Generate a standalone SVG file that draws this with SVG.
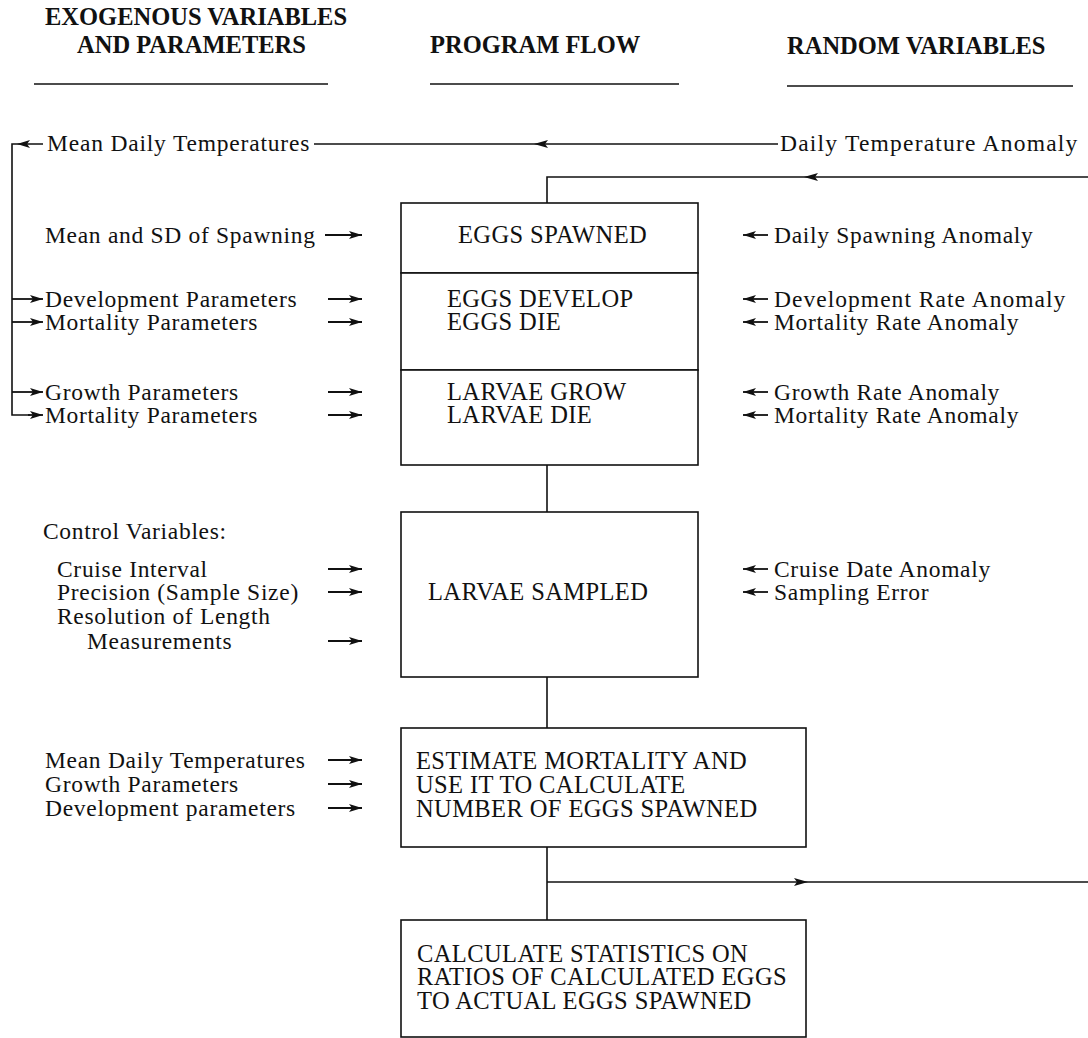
<svg xmlns="http://www.w3.org/2000/svg" width="1088" height="1038" viewBox="0 0 1088 1038">
<style>
text{font-family:"Liberation Serif","Times New Roman",serif;font-size:23.5px;letter-spacing:0.7px;fill:#111}
.h{font-weight:bold;font-size:24.5px;letter-spacing:0}
.bx{font-size:24.5px;letter-spacing:0.4px}
.ln{stroke:#111;stroke-width:1.6;fill:none}
.box{stroke:#111;stroke-width:1.6;fill:#fff}
.ah{fill:#111}
.ar{stroke:#111;stroke-width:1.8;fill:none;marker-end:url(#hd)}
</style>
<defs>
<marker id="hd" viewBox="0 0 13 8" refX="13" refY="4" markerWidth="13" markerHeight="8" markerUnits="userSpaceOnUse" orient="auto">
<path d="M0,0 L13,4 L0,8 L3,4 z" fill="#111"/>
</marker>
</defs>

<g id="headers">
<text class="h" x="45" y="25">EXOGENOUS VARIABLES</text>
<text class="h" x="77" y="53">AND PARAMETERS</text>
<text class="h" x="430" y="53">PROGRAM FLOW</text>
<text class="h" x="787" y="54">RANDOM VARIABLES</text>
<line class="ln" x1="34" y1="84" x2="328" y2="84"/>
<line class="ln" x1="430" y1="84" x2="679" y2="84"/>
<line class="ln" x1="787" y1="86" x2="1073" y2="86"/>
</g>

<g id="connectors">
<!-- temperature loop -->
<line class="ln" x1="314" y1="144" x2="778" y2="144"/>
<path class="ah" d="M534,144 L548,140 L545,144 L548,148 z"/>
<polyline class="ln" points="43,144 12,144 12,415 30,415"/>
<path class="ah" d="M17,144 L30,140 L27,144 L30,148 z"/>
<line class="ar" x1="12" y1="299" x2="43" y2="299"/>
<line class="ar" x1="12" y1="322" x2="43" y2="322"/>
<line class="ar" x1="12" y1="392" x2="43" y2="392"/>
<line class="ar" x1="28" y1="415" x2="43" y2="415"/>
<!-- return loop top -->
<polyline class="ln" points="1088,177 547,177 547,203"/>
<path class="ah" d="M804,177 L818,173 L815,177 L818,181 z"/>
<!-- flow -->
<line class="ln" x1="547" y1="465" x2="547" y2="512"/>
<line class="ln" x1="547" y1="677" x2="547" y2="728"/>
<line class="ln" x1="547" y1="847" x2="547" y2="920"/>
<line class="ln" x1="547" y1="882" x2="1088" y2="882"/>
<path class="ah" d="M808,882 L794,878 L797,882 L794,886 z"/>
<!-- input arrows left -->
<line class="ar" x1="325" y1="235" x2="362" y2="235"/>
<line class="ar" x1="328" y1="299" x2="362" y2="299"/>
<line class="ar" x1="328" y1="322" x2="362" y2="322"/>
<line class="ar" x1="328" y1="392" x2="362" y2="392"/>
<line class="ar" x1="328" y1="415" x2="362" y2="415"/>
<line class="ar" x1="328" y1="569" x2="362" y2="569"/>
<line class="ar" x1="328" y1="592" x2="362" y2="592"/>
<line class="ar" x1="328" y1="641" x2="362" y2="641"/>
<line class="ar" x1="328" y1="760" x2="362" y2="760"/>
<line class="ar" x1="328" y1="784" x2="362" y2="784"/>
<line class="ar" x1="328" y1="808" x2="362" y2="808"/>
<!-- input arrows right -->
<line class="ar" x1="768" y1="235" x2="743" y2="235"/>
<line class="ar" x1="768" y1="299" x2="743" y2="299"/>
<line class="ar" x1="768" y1="322" x2="743" y2="322"/>
<line class="ar" x1="768" y1="392" x2="743" y2="392"/>
<line class="ar" x1="768" y1="415" x2="743" y2="415"/>
<line class="ar" x1="768" y1="569" x2="743" y2="569"/>
<line class="ar" x1="768" y1="592" x2="743" y2="592"/>
</g>

<g id="exogenous">
<text x="47" y="151" textLength="263">Mean Daily Temperatures</text>
<text x="45" y="243">Mean and SD of Spawning</text>
<text x="45" y="307">Development Parameters</text>
<text x="45" y="330">Mortality Parameters</text>
<text x="45" y="400">Growth Parameters</text>
<text x="45" y="423">Mortality Parameters</text>
<text x="43" y="539">Control Variables:</text>
<text x="57" y="577">Cruise Interval</text>
<text x="57" y="600">Precision (Sample Size)</text>
<text x="57" y="624">Resolution of Length</text>
<text x="87" y="649">Measurements</text>
<text x="45" y="768">Mean Daily Temperatures</text>
<text x="45" y="792">Growth Parameters</text>
<text x="45" y="816">Development parameters</text>
</g>

<g id="random">
<text x="780" y="151" textLength="298">Daily Temperature Anomaly</text>
<text x="774" y="243">Daily Spawning Anomaly</text>
<text x="774" y="307" textLength="292">Development Rate Anomaly</text>
<text x="774" y="330">Mortality Rate Anomaly</text>
<text x="774" y="400">Growth Rate Anomaly</text>
<text x="774" y="423">Mortality Rate Anomaly</text>
<text x="774" y="577">Cruise Date Anomaly</text>
<text x="774" y="600">Sampling Error</text>
</g>

<g id="eggs-spawned">
<rect class="box" x="401" y="203" width="297" height="70"/>
<text class="bx" x="458" y="243">EGGS SPAWNED</text>
</g>
<g id="eggs-develop-die">
<rect class="box" x="401" y="273" width="297" height="97"/>
<text class="bx" x="447" y="307">EGGS DEVELOP</text>
<text class="bx" x="447" y="330">EGGS DIE</text>
</g>
<g id="larvae-grow-die">
<rect class="box" x="401" y="370" width="297" height="95"/>
<text class="bx" x="447" y="400">LARVAE GROW</text>
<text class="bx" x="447" y="423">LARVAE DIE</text>
</g>
<g id="larvae-sampled">
<rect class="box" x="401" y="512" width="297" height="165"/>
<text class="bx" x="428" y="600">LARVAE SAMPLED</text>
</g>
<g id="estimate">
<rect class="box" x="401" y="728" width="405" height="119"/>
<text class="bx" x="416" y="769">ESTIMATE MORTALITY AND</text>
<text class="bx" x="416" y="793">USE IT TO CALCULATE</text>
<text class="bx" x="416" y="817">NUMBER OF EGGS SPAWNED</text>
</g>
<g id="statistics">
<rect class="box" x="401" y="920" width="405" height="117"/>
<text class="bx" x="417" y="962">CALCULATE STATISTICS ON</text>
<text class="bx" x="417" y="985">RATIOS OF CALCULATED EGGS</text>
<text class="bx" x="417" y="1009">TO ACTUAL EGGS SPAWNED</text>
</g>
</svg>
